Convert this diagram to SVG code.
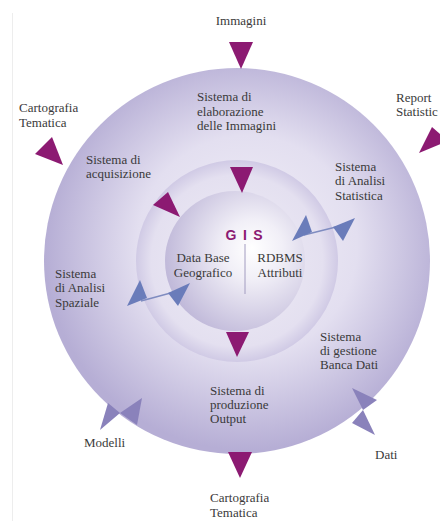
<svg xmlns="http://www.w3.org/2000/svg" width="440" height="521" viewBox="0 0 440 521">
<style>
.t{font-family:'Liberation Serif','Times New Roman','DejaVu Serif',serif;font-size:13px;fill:#3a3a3a}
.mg{fill:#8c1a72}
.bl{fill:#6a7cba}
.bw{fill:#8a82bb}
.gis{font-family:'Liberation Sans',Arial,sans-serif;font-weight:bold;font-size:14px;fill:#8c1a72;text-anchor:middle}
</style>
<defs>
<radialGradient id="gOuter" gradientUnits="userSpaceOnUse" cx="245" cy="250" r="200" fx="250" fy="240">
<stop offset="0" stop-color="#f1eff7"/>
<stop offset="0.55" stop-color="#e3dff0"/>
<stop offset="1" stop-color="#b6aed5"/>
</radialGradient>
<radialGradient id="gMid" gradientUnits="userSpaceOnUse" cx="237" cy="261" r="101">
<stop offset="0" stop-color="#efedf6"/>
<stop offset="0.85" stop-color="#e4e0f0"/>
<stop offset="1" stop-color="#d0cae5"/>
</radialGradient>
<radialGradient id="gIn" gradientUnits="userSpaceOnUse" cx="255" cy="252" r="100" fx="252" fy="248">
<stop offset="0" stop-color="#ffffff"/>
<stop offset="0.3" stop-color="#f1eff7"/>
<stop offset="1" stop-color="#b9b1d5"/>
</radialGradient>
</defs>
<rect width="440" height="521" fill="#ffffff"/>
<line x1="12.5" y1="13" x2="12.5" y2="521" stroke="#ededed" stroke-width="1"/>

<g id="outer-circle"><circle cx="237" cy="261" r="193" fill="url(#gOuter)"/></g>
<g id="middle-ring"><circle cx="237" cy="261" r="101" fill="url(#gMid)"/></g>
<g id="gis-core">
<circle cx="235" cy="261" r="70" fill="url(#gIn)"/>
<line x1="245" y1="244" x2="245" y2="294" stroke="#a29cc0" stroke-width="1"/>
<text class="gis" x="231" y="240">G</text>
<text class="gis" x="245" y="240">I</text>
<text class="gis" x="258" y="240">S</text>
<text class="t" x="203" y="262" text-anchor="middle">Data Base</text>
<text class="t" x="203" y="277" text-anchor="middle">Geografico</text>
<text class="t" x="280" y="262" text-anchor="middle">RDBMS</text>
<text class="t" x="280" y="277" text-anchor="middle">Attributi</text>
</g>

<g id="connectors">
<polygon class="mg" points="229,42 253,42 241,69"/>
<polygon class="mg" points="230,167 253,167 242,193"/>
<polygon class="mg" points="226,332 249,332 237,357"/>
<polygon class="mg" points="228,452 252,452 240,478"/>
<polygon class="mg" points="35,154 52,137 63,165"/>
<polygon class="mg" points="153,205 168,192 180,217"/>
<polygon class="mg" points="419,153 432,127 448,141"/>
<line x1="304" y1="235" x2="340" y2="226" stroke="#7f8cc0" stroke-width="1.3"/>
<polygon class="bl" points="292,241 306,215 312,232"/>
<polygon class="bl" points="355,218 333,227 343,241"/>
<line x1="141" y1="301" x2="178" y2="291" stroke="#7f8cc0" stroke-width="1.3"/>
<polygon class="bl" points="127,306 140,280 147,298"/>
<polygon class="bl" points="190,283 168,293 178,306"/>
<polygon class="bw" points="100,430 108,403 120,413"/>
<polygon class="bw" points="142,398 137,425 120,413"/>
<polygon class="bw" points="352,388 377,400 363,410"/>
<polygon class="bw" points="352,423 375,435 363,410"/>
</g>

<g id="immagini"><text class="t" x="241" y="25" text-anchor="middle">Immagini</text></g>
<g id="cartografia-top"><text class="t" x="19" y="112">Cartografia</text><text class="t" x="19" y="127">Tematica</text></g>
<g id="report"><text class="t" x="396" y="102">Report</text><text class="t" x="396" y="116">Statistic</text></g>
<g id="elaborazione"><text class="t" x="197" y="101">Sistema di</text><text class="t" x="197" y="116">elaborazione</text><text class="t" x="197" y="130">delle Immagini</text></g>
<g id="acquisizione"><text class="t" x="86" y="164">Sistema di</text><text class="t" x="86" y="178">acquisizione</text></g>
<g id="statistica"><text class="t" x="335" y="171">Sistema</text><text class="t" x="335" y="185">di Analisi</text><text class="t" x="335" y="200">Statistica</text></g>
<g id="spaziale"><text class="t" x="55" y="278">Sistema</text><text class="t" x="55" y="292">di Analisi</text><text class="t" x="55" y="307">Spaziale</text></g>
<g id="gestione"><text class="t" x="320" y="341">Sistema</text><text class="t" x="320" y="355">di gestione</text><text class="t" x="320" y="369">Banca Dati</text></g>
<g id="produzione"><text class="t" x="210" y="395">Sistema di</text><text class="t" x="210" y="409">produzione</text><text class="t" x="210" y="423">Output</text></g>
<g id="modelli"><text class="t" x="84" y="447">Modelli</text></g>
<g id="dati"><text class="t" x="375" y="459">Dati</text></g>
<g id="cartografia-bottom"><text class="t" x="210" y="502">Cartografia</text><text class="t" x="210" y="517">Tematica</text></g>
</svg>
